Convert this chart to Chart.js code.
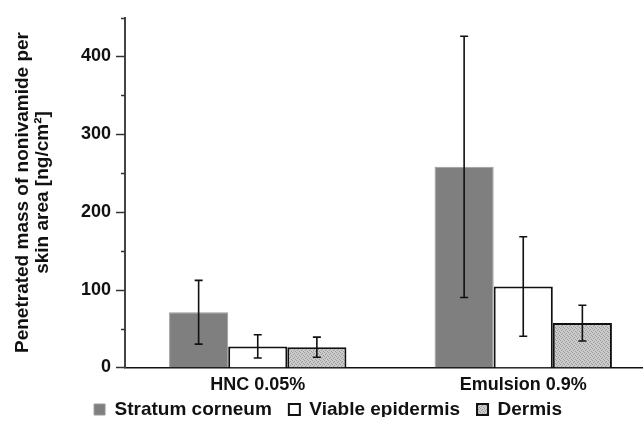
<!DOCTYPE html>
<html>
<head>
<meta charset="utf-8">
<script src="https://cdn.jsdelivr.net/npm/chart.js@4"></script>
<style>
  html, body { margin: 0; padding: 0; background: #fff; overflow: hidden; }
  #wrap { width: 656px; height: 430px; }
</style>
</head>
<body>
<div id="wrap"><canvas id="barChart"></canvas></div>
<script>
const categories = ['HNC 0.05%', 'Emulsion 0.9%'];
const seriesNames = ['Stratum corneum', 'Viable epidermis', 'Dermis'];
const stratumCorneum = [71, 258];
const stratumCorneumSd = [41, 168];
const viableEpidermis = [27, 104];
const viableEpidermisSd = [15, 64];
const dermis = [26, 57];
const dermisSd = [13, 23];
const yTicks = [0, 100, 200, 300, 400];

// stippled grey fill for the dermis bars
function makeStipple() {
  const c = document.createElement('canvas');
  c.width = 4; c.height = 4;
  const g = c.getContext('2d');
  g.fillStyle = '#cbcbcb';
  g.fillRect(0, 0, 4, 4);
  g.fillStyle = '#9a9a9a';
  [[0, 0], [2, 1], [1, 2], [3, 3]].forEach(p => g.fillRect(p[0], p[1], 1, 1));
  return g.createPattern(c, 'repeat');
}
const stipple = makeStipple();

const font = 'Liberation Sans, Arial, sans-serif';

const errorBars = {
  id: 'errorBars',
  afterDatasetsDraw(chart) {
    const ctx = chart.ctx;
    const y = chart.scales.y;
    ctx.save();
    ctx.strokeStyle = '#111';
    ctx.lineWidth = 1.6;
    chart.data.datasets.forEach((ds, di) => {
      chart.getDatasetMeta(di).data.forEach((bar, i) => {
        const top = y.getPixelForValue(ds.data[i] + ds.sd[i]);
        const bot = y.getPixelForValue(ds.data[i] - ds.sd[i]);
        ctx.beginPath();
        ctx.moveTo(bar.x, top); ctx.lineTo(bar.x, bot);
        ctx.moveTo(bar.x - 4, top); ctx.lineTo(bar.x + 4, top);
        ctx.moveTo(bar.x - 4, bot); ctx.lineTo(bar.x + 4, bot);
        ctx.stroke();
      });
    });
    ctx.restore();
  }
};

// major and minor tick marks on the value axis
const yTickMarks = {
  id: 'yTickMarks',
  afterDraw(chart) {
    const ctx = chart.ctx;
    const y = chart.scales.y;
    const x0 = chart.chartArea.left;
    ctx.save();
    ctx.strokeStyle = '#333';
    ctx.lineWidth = 1.5;
    for (let v = 0; v <= 450; v += 50) {
      const py = Math.round(y.getPixelForValue(v)) + 0.5;
      const len = v % 100 === 0 ? 9 : 4;
      ctx.beginPath();
      ctx.moveTo(x0 - len, py); ctx.lineTo(x0, py);
      ctx.stroke();
    }
    ctx.restore();
  }
};

// keep the legend compact vertically, while keeping wide gaps between items
const compactLegend = {
  id: 'compactLegend',
  afterInit(chart) {
    const lg = chart.legend;
    const fit = lg.fit;
    lg.fit = function () {
      fit.call(this);
      this.height = 27;
    };
  },
  afterLayout(chart) {
    const lg = chart.legend;
    lg.top = 383;
    lg.bottom = lg.top + 34;
  }
};

new Chart(document.getElementById('barChart'), {
  type: 'bar',
  data: {
    labels: categories,
    datasets: [
      { label: seriesNames[0], data: stratumCorneum, sd: stratumCorneumSd,
        backgroundColor: '#7f7f7f', borderColor: '#9a9a9a', borderWidth: 1 },
      { label: seriesNames[1], data: viableEpidermis, sd: viableEpidermisSd,
        backgroundColor: '#ffffff', borderColor: '#111', borderWidth: 2 },
      { label: seriesNames[2], data: dermis, sd: dermisSd,
        backgroundColor: stipple, borderColor: '#111', borderWidth: 2 }
    ]
  },
  options: {
    responsive: true,
    maintainAspectRatio: false,
    animation: false,
    layout: { padding: { top: 0, right: 0, left: 0, bottom: 0 } },
    datasets: { bar: { barPercentage: 1, categoryPercentage: 0.668 } },
    scales: {
      x: {
        grid: { display: false, drawTicks: false },
        border: { color: '#111', width: 1.5 },
        ticks: { color: '#111', font: { family: font, size: 18, weight: 'bold' }, padding: 7 }
      },
      y: {
        min: 0,
        max: 450,
        afterBuildTicks(s) { s.ticks = yTicks.map(v => ({ value: v })); },
        afterFit(s) { s.width = 125; },
        grid: { display: false, drawTicks: false },
        border: { color: '#444', width: 2 },
        ticks: { color: '#111', font: { family: font, size: 18, weight: 'bold', lineHeight: 0.4 }, padding: 14 },
        title: {
          display: true,
          text: ['Penetrated mass of nonivamide per', 'skin area [ng/cm²]'],
          color: '#111',
          font: { family: font, size: 19, weight: 'bold', lineHeight: 1.05 },
          padding: { top: 13, bottom: 8 }
        }
      }
    },
    plugins: {
      legend: {
        position: 'bottom',
        labels: {
          color: '#111',
          font: { family: font, size: 19, weight: 'bold' },
          boxWidth: 11,
          boxHeight: 11,
          padding: 17
        }
      },
      tooltip: { enabled: false }
    }
  },
  plugins: [errorBars, yTickMarks, compactLegend]
});
</script>
</body>
</html>
